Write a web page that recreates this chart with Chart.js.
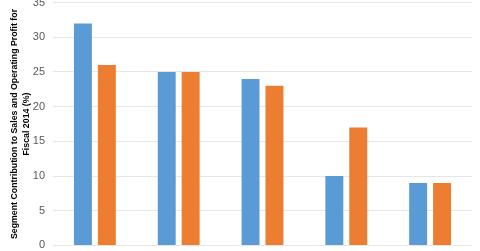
<!DOCTYPE html>
<html>
<head>
<meta charset="utf-8">
<script src="https://cdn.jsdelivr.net/npm/chart.js@4.4.0/dist/chart.umd.min.js"></script>
<style>
  html, body { margin: 0; padding: 0; background: #fff; overflow: hidden; }
  #wrap { position: absolute; left: 0; top: -12px; width: 480px; height: 272px; }
</style>
</head>
<body>
<div id="wrap"><canvas id="chart"></canvas></div>
<script>
// Segment data, fiscal 2014 (%)
const segments = ['Segment 1', 'Segment 2', 'Segment 3', 'Segment 4', 'Segment 5'];
const salesShare = [32, 25, 24, 10, 9];
const profitShare = [26, 25, 23, 17, 9];

const axisTitle = ['Segment Contribution to Sales and Operating Profit for', 'Fiscal 2014 (%)'];

new Chart(document.getElementById('chart').getContext('2d'), {
    type: 'bar',
    data: {
        labels: segments,
        datasets: [
            { label: 'Sales', data: salesShare, backgroundColor: '#5B9BD5', categoryPercentage: 0.571, barPercentage: 0.75 },
            { label: 'Operating Profit', data: profitShare, backgroundColor: '#ED7D31', categoryPercentage: 0.571, barPercentage: 0.75 }
        ]
    },
    options: {
        responsive: true,
        maintainAspectRatio: false,
        animation: false,
        layout: { padding: { left: 9, right: 8, top: 0, bottom: 0 } },
        plugins: { legend: { display: false }, tooltip: { enabled: false } },
        scales: {
            x: {
                grid: { display: false },
                border: { display: false },
                ticks: { display: false }
            },
            y: {
                min: 0, max: 35,
                ticks: { stepSize: 5, color: '#595959', padding: 8, font: { family: 'Liberation Sans', size: 11 } },
                grid: { color: '#e6e6e6', drawTicks: false },
                border: { display: false },
                title: {
                    display: true,
                    text: axisTitle,
                    color: '#000',
                    // negative bottom padding pulls the tick labels in against the title
                    padding: { top: 0, bottom: -8 },
                    font: { family: 'Liberation Sans', size: 8.8, weight: 'bold', lineHeight: 1.35 }
                }
            }
        }
    }
});
</script>
</body>
</html>
